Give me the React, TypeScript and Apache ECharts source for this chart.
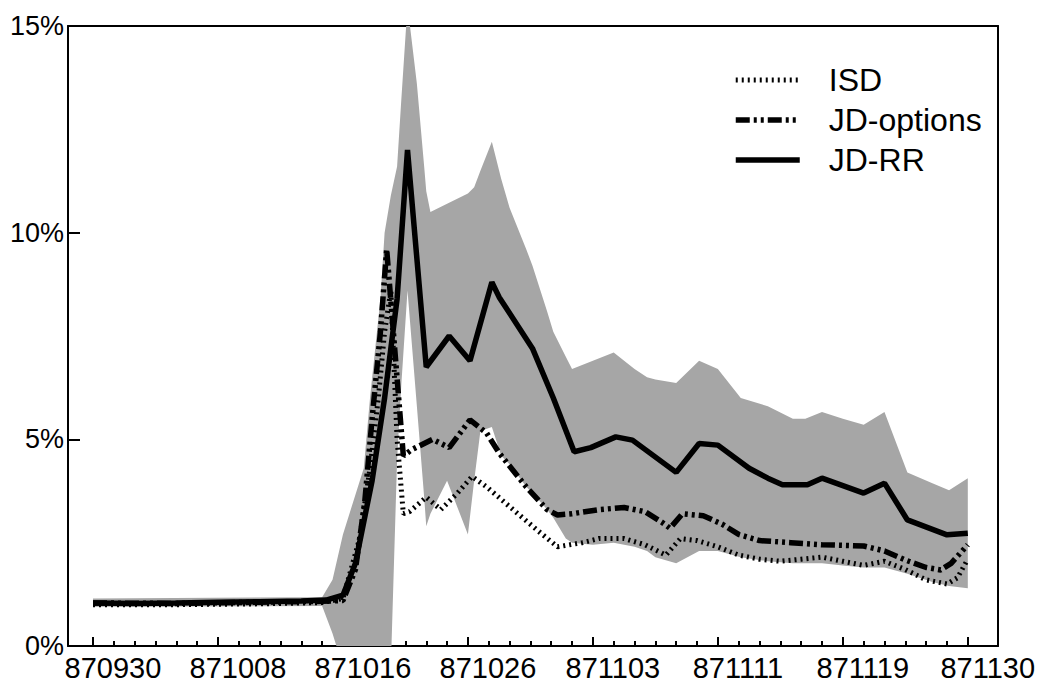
import React, { useEffect, useRef } from 'react';
import * as echarts from 'echarts';

// Trading-day index (0 = 870930 ... 42 = 871130)
const tickLabels = ['870930', '871008', '871016', '871026', '871103', '871111', '871119', '871130'];
const tickLabelIndex = [0, 6, 12, 18, 24, 30, 36, 42];
const dayIndex = [0, 1, 2, 3, 4, 5, 6, 7, 8, 9, 10, 11, 12, 13, 14, 15, 16, 17, 18, 19, 20, 21, 22, 23, 24, 25, 26, 27, 28, 29, 30, 31, 32, 33, 34, 35, 36, 37, 38, 39, 40, 41, 42];

// values in percent, [trading-day index, value]
const jdRR = [
  [0, 1.04], [2, 1.03], [4, 1.04], [6, 1.06], [8, 1.07], [10, 1.09], [11.2, 1.11], [12, 1.23],
  [12.6, 2.0], [13.4, 4.0], [14, 6.0], [14.6, 8.4], [15.1, 12.0], [16, 6.75], [17.1, 7.5],
  [18.1, 6.9], [19.15, 8.8], [19.5, 8.44], [21.1, 7.2], [22.1, 6.0], [23.1, 4.7], [23.9, 4.8],
  [25.1, 5.06], [25.9, 4.98], [28, 4.2], [29.1, 4.9], [30, 4.86], [31.5, 4.3], [32.4, 4.06],
  [33.1, 3.9], [34.3, 3.9], [35, 4.06], [37, 3.7], [38, 3.94], [39.1, 3.05], [41, 2.69], [42, 2.73],
];

const jdOptions = [
  [0, 1.04], [4, 1.03], [8, 1.06], [11, 1.08], [12, 1.1], [12.6, 1.85], [13.05, 3.5], [13.4, 5.5],
  [13.8, 7.6], [14.1, 9.6], [14.9, 4.6], [15.3, 4.75], [16.3, 5.0], [17.1, 4.8], [18.1, 5.47],
  [18.9, 5.15], [19.5, 4.67], [20.8, 3.85], [21.8, 3.3], [22.3, 3.17], [23, 3.2], [24.3, 3.3],
  [25.5, 3.35], [26.5, 3.25], [27.3, 3.0], [27.7, 2.85], [28.3, 3.2], [29.3, 3.15], [30.2, 2.95],
  [31, 2.7], [32, 2.55], [33.5, 2.5], [35, 2.45], [37, 2.42], [38, 2.3], [39, 2.08], [40, 1.9],
  [40.7, 1.84], [41.2, 2.0], [42, 2.45],
];

const isd = [
  [0, 1.0], [4, 1.0], [8, 1.02], [11, 1.05], [12, 1.15], [12.8, 2.6], [13.3, 4.3], [13.7, 6.0],
  [14.0, 7.6], [14.3, 8.6], [14.6, 5.0], [14.9, 3.2], [15.2, 3.25], [16, 3.6], [16.7, 3.3],
  [17.5, 3.7], [18.2, 4.1], [18.9, 3.85], [20.4, 3.2], [21.5, 2.73], [22.3, 2.4], [23.5, 2.5],
  [24.3, 2.6], [25.5, 2.6], [26.5, 2.45], [27.5, 2.2], [28.2, 2.6], [29, 2.55], [30, 2.4],
  [31, 2.2], [32, 2.1], [33, 2.05], [34, 2.1], [35, 2.15], [36, 2.05], [37, 1.95], [38, 2.05],
  [39, 1.85], [40, 1.6], [41, 1.5], [41.5, 1.65], [42, 2.1],
];

// JD-RR confidence band: x positions, lower and upper bounds (percent)
const bandX = [
  0, 11, 11.5, 12, 13, 13.3, 13.8, 14.0, 14.3, 14.6, 14.8, 15.1, 15.55, 15.9, 16, 16.2, 17, 18,
  18.3, 18.6, 19.15, 19.6, 20, 20.8, 21.1, 21.8, 22.1, 22.7, 23, 24, 25, 26, 26.6, 27, 28, 29.1,
  30, 31.1, 32.4, 33.6, 34.2, 35, 36, 37, 38, 39.1, 40.3, 41.1, 42,
];
const bandLow = [
  0.95, 0.97, 0.3, -0.5, -0.5, -0.5, -0.5, -0.5, -0.5, 4.5, 6.3, 8.6, 5.8, 3.6, 2.9, 3.2, 4.0, 2.7,
  4.0, 5.2, 5.3, 4.6, 4.4, 3.85, 3.7, 3.3, 3.1, 2.6, 2.5, 2.45, 2.5, 2.4, 2.3, 2.15, 2.0, 2.3,
  2.3, 2.15, 2.05, 2.0, 2.0, 2.0, 1.95, 1.9, 1.9, 1.75, 1.55, 1.45, 1.4,
];
const bandHigh = [
  1.15, 1.18, 1.6, 2.7, 4.3, 6.0, 8.4, 10.0, 10.9, 11.6, 13.2, 15.5, 13.6, 11.6, 11.0, 10.5, 10.7, 10.95,
  11.1, 11.5, 12.2, 11.3, 10.6, 9.6, 9.2, 8.1, 7.6, 7.0, 6.7, 6.9, 7.1, 6.7, 6.5, 6.45, 6.36, 6.9,
  6.7, 6.0, 5.8, 5.5, 5.5, 5.66, 5.5, 5.35, 5.66, 4.2, 3.94, 3.77, 4.06,
];

const FONT = "'Liberation Sans', Arial, Helvetica, sans-serif";
// the frame's left edge lies 1.2 trading days before the first day
const X0 = 1.2;
const X_MAX = 44.65;

export default function App() {
  const ref = useRef<HTMLDivElement>(null);
  useEffect(() => {
    const chart = echarts.init(ref.current as HTMLDivElement, null, { renderer: 'svg' });
    const axisColor = '#000';
    const shift = (pts: number[][]) => pts.map(([x, v]) => [x + X0, v]);
    const tickPos = dayIndex.map((d) => d + X0);
    const labelPos = tickLabelIndex.map((d) => d + X0);
    const bandData = bandX.map((x, i) => [x + X0, bandLow[i], bandHigh[i]]);
    const renderBand = (params: any, api: any) => {
      if (params.dataIndex !== 0) return null;
      const upper = bandX.map((x, i) => api.coord([x + X0, bandHigh[i]]));
      const lower = bandX.map((x, i) => api.coord([x + X0, bandLow[i]])).reverse();
      return {
        type: 'polygon',
        shape: { points: upper.concat(lower) },
        style: { fill: '#a6a6a6', stroke: 'none' },
        silent: true,
      };
    };
    const option: any = {
      animation: false,
      backgroundColor: '#fff',
      grid: { left: 68, right: 44, top: 26, bottom: 41 },
      legend: {
        orient: 'vertical',
        left: 733,
        top: 60,
        padding: 0,
        itemWidth: 64,
        itemHeight: 14,
        itemGap: 0,
        selectedMode: false,
        data: ['ISD', 'JD-options', 'JD-RR'],
        lineStyle: { width: 'inherit' },
        itemStyle: { opacity: 0 },
        textStyle: { fontFamily: FONT, fontSize: 32, color: '#000', lineHeight: 40, padding: [0, 0, 0, 24] },
      },
      xAxis: [
        {
          type: 'value', min: 0, max: X_MAX, position: 'bottom',
          axisLine: { show: true, onZero: false, lineStyle: { color: axisColor, width: 2 } },
          axisTick: { show: true, inside: true, length: 5, customValues: tickPos, lineStyle: { color: axisColor, width: 2 } },
          axisLabel: { show: false },
          splitLine: { show: false },
        },
        {
          type: 'value', min: 0, max: X_MAX, position: 'bottom',
          axisLine: { show: false, onZero: false },
          axisTick: { show: true, inside: true, length: 9, customValues: labelPos, lineStyle: { color: axisColor, width: 2 } },
          axisLabel: {
            show: true, customValues: labelPos, margin: 7, padding: [0, 0, 0, 40],
            fontFamily: FONT, fontSize: 29, color: '#000',
            formatter: (v: number) => tickLabels[tickLabelIndex.indexOf(Math.round(v - X0))] ?? '',
          },
          splitLine: { show: false },
        },
        {
          type: 'value', min: 0, max: X_MAX, position: 'top',
          axisLine: { show: true, onZero: false, lineStyle: { color: axisColor, width: 2 } },
          axisTick: { show: false }, axisLabel: { show: false }, splitLine: { show: false },
        },
      ],
      yAxis: [
        {
          type: 'value', min: 0, max: 15, interval: 5, position: 'left',
          axisLine: { show: true, onZero: false, lineStyle: { color: axisColor, width: 2 } },
          axisTick: { show: true, inside: true, length: 12, lineStyle: { color: axisColor, width: 2 } },
          axisLabel: { formatter: '{value}%', margin: 4, fontFamily: FONT, fontSize: 27, color: '#000' },
          splitLine: { show: false },
        },
        {
          type: 'value', min: 0, max: 15, position: 'right',
          axisLine: { show: true, onZero: false, lineStyle: { color: axisColor, width: 2 } },
          axisTick: { show: false }, axisLabel: { show: false }, splitLine: { show: false },
        },
      ],
      series: [
        {
          name: 'band', type: 'custom', data: bandData, renderItem: renderBand, clip: true, silent: true, z: 1,
          encode: { x: 0, y: [1, 2] },
        },
        {
          name: 'ISD', type: 'line', data: shift(isd), symbol: 'none', z: 3,
          lineStyle: { color: '#000', width: 5, type: [2, 4] }, itemStyle: { color: '#000' },
        },
        {
          name: 'JD-options', type: 'line', data: shift(jdOptions), symbol: 'none', z: 3,
          lineStyle: { color: '#000', width: 5.5, type: [14, 4, 3, 4, 3, 4] }, itemStyle: { color: '#000' },
        },
        {
          name: 'JD-RR', type: 'line', data: shift(jdRR), symbol: 'none', z: 4,
          lineStyle: { color: '#000', width: 5.5 }, itemStyle: { color: '#000' },
        },
      ],
    };
    chart.setOption(option);
    return () => chart.dispose();
  }, []);
  return (
    <div
      ref={ref}
      style={{ position: 'fixed', left: 0, top: 0, width: 1042, height: 687, background: '#fff' }}
    />
  );
}
